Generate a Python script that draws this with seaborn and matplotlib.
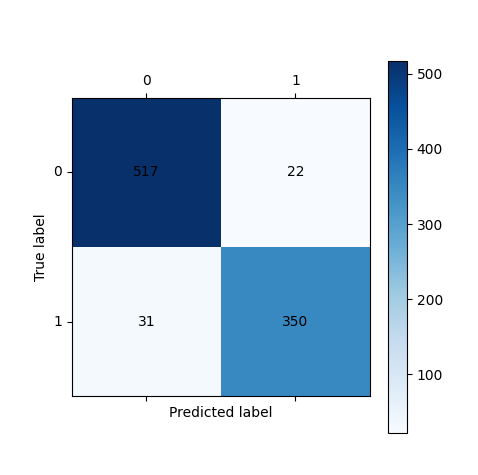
import numpy as np
import pandas as pd
import matplotlib
matplotlib.use("Agg")
import matplotlib.pyplot as plt
import seaborn as sns

labels = ["0", "1"]
row_true_0 = [517, 22]
row_true_1 = [31, 350]

cm = pd.DataFrame([row_true_0, row_true_1], index=labels, columns=labels)

fig = plt.figure(figsize=(4.78, 4.75), dpi=100)
ax = fig.add_axes([0.1506, 0.1663, 0.6234, 0.6274])
cax = fig.add_axes([0.8117, 0.0884, 0.0397, 0.783])

sns.heatmap(cm, ax=ax, cbar_ax=cax, cmap="Blues", annot=True, fmt="d",
            annot_kws={"color": "black", "fontsize": 10}, square=False)

ax.xaxis.tick_top()
ax.tick_params(top=True, bottom=True, labeltop=True, labelbottom=False,
               left=True, length=3.5, width=0.8, labelsize=10)
ax.set_yticklabels(labels, rotation=0)
ax.set_xticklabels(labels, rotation=0)
ax.xaxis.set_label_position("bottom")
ax.set_xlabel("Predicted label")
ax.set_ylabel("True label")
for s in ax.spines.values():
    s.set_visible(True)
    s.set_linewidth(0.8)
    s.set_color("black")

cb = ax.collections[0].colorbar
cb.outline.set_visible(True)
cb.outline.set_linewidth(0.8)
cb.outline.set_edgecolor("black")
cb.set_ticks([100, 200, 300, 400, 500])
cax.tick_params(length=3.5, width=0.8, labelsize=10)

fig.savefig("out.png", dpi=100)
